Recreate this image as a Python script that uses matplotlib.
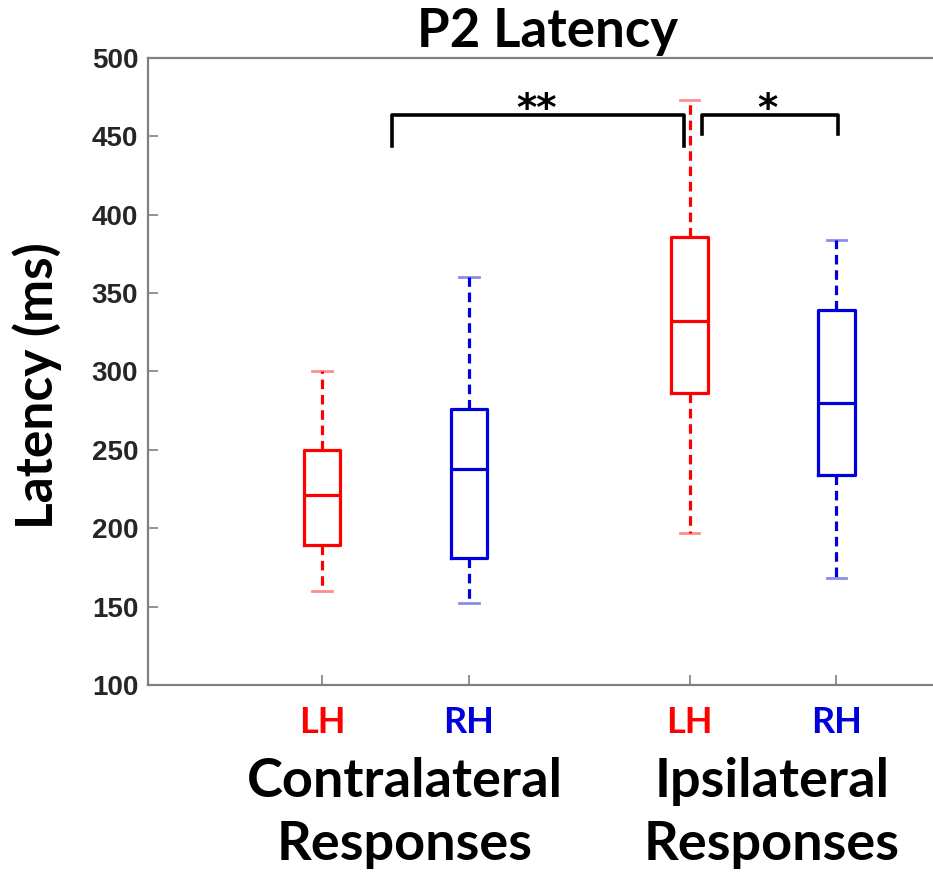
import matplotlib
matplotlib.use("Agg")
import matplotlib.pyplot as plt

# box statistics (ms)
groups = ["LH", "RH", "LH", "RH"]
positions = [1, 2, 3.5, 4.5]
colors = ["#ff0000", "#0000dd", "#ff0000", "#0000dd"]
whislo = [160, 152, 197, 168]
q1 = [189, 181, 286, 234]
med = [221, 238, 332, 280]
q3 = [250, 276, 386, 339]
whishi = [300, 360, 473, 384]

yticks = [100, 150, 200, 250, 300, 350, 400, 450, 500]

W, H = 933, 874
fig = plt.figure(figsize=(W / 100, H / 100), dpi=100)
ax = fig.add_axes([148 / W, 1 - 685 / H, 0.852, (685 - 58) / H])

stats = []
for i in range(len(groups)):
    stats.append({"whislo": whislo[i], "q1": q1[i], "med": med[i],
                  "q3": q3[i], "whishi": whishi[i], "fliers": []})

bp = ax.bxp(stats, positions=positions, widths=0.25, showfliers=False,
            capwidths=0.13, patch_artist=False)
for i, c in enumerate(colors):
    bp["boxes"][i].set(color=c, linewidth=2.3)
    bp["medians"][i].set(color=c, linewidth=2.3)
    for w in bp["whiskers"][2 * i:2 * i + 2]:
        w.set(color=c, linewidth=2.3, linestyle=(0, (3, 1.8)))
    for cp in bp["caps"][2 * i:2 * i + 2]:
        cp.set(color=c, linewidth=2.0, alpha=0.45)

ax.set_ylim(100, 500)
ax.set_xlim(-0.184, 5.224)
ax.set_yticks(yticks)
ax.set_yticklabels([str(v) for v in yticks], fontsize=20, fontweight="bold",
                   color="#262626", fontfamily="Liberation Sans")
ax.set_xticks(positions)
ax.set_xticklabels(groups, fontsize=26, fontweight="bold", fontfamily="Lato")
for lbl, c in zip(ax.get_xticklabels(), colors):
    lbl.set_color(c)
ax.tick_params(direction="in", length=7, width=1.2, color="#808080",
               right=True)
ax.tick_params(axis="x", pad=15)
ax.tick_params(axis="y", pad=7)
for s in ax.spines.values():
    s.set_color("#808080")
    s.set_linewidth(1.6)

fig.text(37 / W, 1 - 386 / H, "Latency (ms)", rotation=90, ha="center",
         va="center", fontsize=37, fontweight="bold", fontfamily="Lato")
fig.text(548 / W, 1 - 47 / H, "P2 Latency", ha="center", va="baseline",
         fontsize=38, fontweight="bold", fontfamily="Lato")

# significance brackets
ax.plot([1.476, 1.476, 3.463, 3.463], [444, 463.6, 463.6, 444], color="black",
        linewidth=2.6, solid_joinstyle="round", clip_on=False)
ax.plot([3.585, 3.585, 4.51, 4.51], [451.5, 463.6, 463.6, 451.5], color="black",
        linewidth=2.6, solid_joinstyle="round", clip_on=False)
ax.text(2.46, 460, "**", ha="center", va="baseline", fontsize=28,
        fontweight="bold", fontfamily="DejaVu Sans")
ax.text(4.03, 460, "*", ha="center", va="baseline", fontsize=28,
        fontweight="bold", fontfamily="DejaVu Sans")

# group labels under the ticks
for x, line1 in [(405, "Contralateral"), (772, "Ipsilateral")]:
    fig.text(x / W, 1 - 797 / H, line1, ha="center", va="baseline",
             fontsize=39, fontweight="bold", fontfamily="Lato")
    fig.text(x / W, 1 - 860 / H, "Responses", ha="center", va="baseline",
             fontsize=39, fontweight="bold", fontfamily="Lato")

fig.savefig("out.png", dpi=100)
